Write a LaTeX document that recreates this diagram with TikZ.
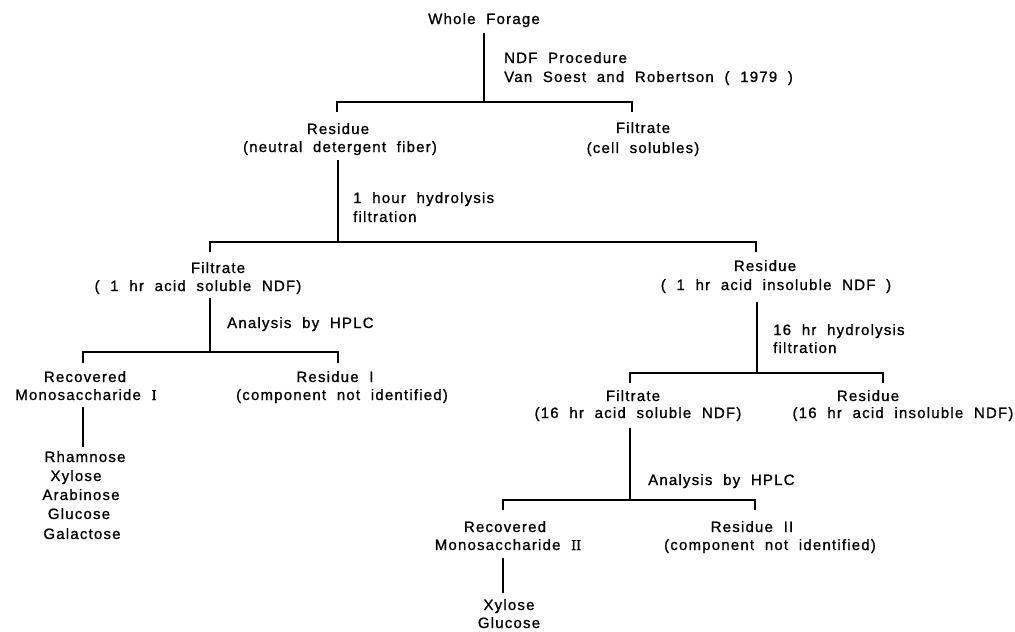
\documentclass[tikz,border=0pt]{standalone}
\usepackage{fontspec}
\setmainfont{Liberation Sans}[LetterSpace=8,WordSpace=2,FakeBold=1]
\newfontfamily\romnum{Liberation Serif}[FakeBold=1]
\begin{document}
\begin{tikzpicture}[x=1pt,y=-1pt,
  txt/.style={inner sep=0pt,anchor=base,font=\fontsize{15}{18}\selectfont},
  ltxt/.style={txt,anchor=base west},
  link/.style={line width=1.3pt,black}]
\useasboundingbox (0,0) rectangle (1015,632);
% texts
\node[txt]  (wf)    at (484,24)  {Whole Forage};
\node[ltxt] (ndf1)  at (504,63)  {NDF Procedure};
\node[ltxt] (ndf2)  at (504,82)  {Van Soest and Robertson ( 1979 )};
\node[txt]  (res1)  at (338,134) {Residue};
\node[txt]  (res1b) at (340,152) {(neutral detergent fiber)};
\node[txt]  (fil1)  at (643,133) {Filtrate};
\node[txt]  (fil1b) at (643,153) {(cell solubles)};
\node[ltxt] (hyd1)  at (353,203) {1 hour hydrolysis};
\node[ltxt] (hyd1b) at (353,222) {filtration};
\node[txt]  (fil2)  at (218,273) {Filtrate};
\node[txt]  (fil2b) at (198,291) {( 1 hr acid soluble NDF)};
\node[txt]  (res2)  at (765,271) {Residue};
\node[txt]  (res2b) at (776,290) {( 1 hr acid insoluble NDF )};
\node[ltxt] (hplc1) at (227,328) {Analysis by HPLC};
\node[txt]  (rec1)  at (85,382)  {Recovered};
\node[txt]  (rec1b) at (86,400)  {Monosaccharide {\romnum I}};
\node[txt]  (resI)  at (335,382) {Residue I};
\node[txt]  (resIb) at (342,400) {(component not identified)};
\node[txt]  (s1)    at (85,462)  {Rhamnose};
\node[txt]  (s2)    at (76,481)  {Xylose};
\node[txt]  (s3)    at (81,500)  {Arabinose};
\node[txt]  (s4)    at (79,519)  {Glucose};
\node[txt]  (s5)    at (82,539)  {Galactose};
\node[ltxt] (hyd2)  at (773,335) {16 hr hydrolysis};
\node[ltxt] (hyd2b) at (773,353) {filtration};
\node[txt]  (fil3)  at (633,401) {Filtrate};
\node[txt]  (fil3b) at (638,418) {(16 hr acid soluble NDF)};
\node[txt]  (res3)  at (868,401) {Residue};
\node[txt]  (res3b) at (903,418) {(16 hr acid insoluble NDF)};
\node[ltxt] (hplc2) at (648,485) {Analysis by HPLC};
\node[txt]  (rec2)  at (505,532) {Recovered};
\node[txt]  (rec2b) at (508,550) {Monosaccharide {\romnum II}};
\node[txt]  (resII) at (752,532) {Residue II};
\node[txt]  (resIIb) at (770,550) {(component not identified)};
\node[txt]  (x2)    at (509,610) {Xylose};
\node[txt]  (g2)    at (509,628) {Glucose};
% connector points
\coordinate (a1) at (484,33);  \coordinate (j1) at (484,102);
\coordinate (l1) at (337,112); \coordinate (r1) at (632,112);
\coordinate (a2) at (338,160); \coordinate (j2) at (338,242);
\coordinate (l2) at (210,252); \coordinate (r2) at (756,252);
\coordinate (a3) at (210,298); \coordinate (j3) at (210,352);
\coordinate (l3) at (83,363);  \coordinate (r3) at (338,363);
\coordinate (a4) at (83,407);  \coordinate (b4) at (83,447);
\coordinate (a5) at (757,302); \coordinate (j5) at (757,373);
\coordinate (l5) at (630,383); \coordinate (r5) at (883,383);
\coordinate (a6) at (630,428); \coordinate (j6) at (630,500);
\coordinate (l6) at (503,510); \coordinate (r6) at (755,510);
\coordinate (a7) at (503,558); \coordinate (b7) at (503,593);
% connectors
\draw[link] (a1) -- (j1);
\draw[link] (l1) |- (j1) -| (r1);
\draw[link] (a2) -- (j2);
\draw[link] (l2) |- (j2) -| (r2);
\draw[link] (a3) -- (j3);
\draw[link] (l3) |- (j3) -| (r3);
\draw[link] (a4) -- (b4);
\draw[link] (a5) -- (j5);
\draw[link] (l5) |- (j5) -| (r5);
\draw[link] (a6) -- (j6);
\draw[link] (l6) |- (j6) -| (r6);
\draw[link] (a7) -- (b7);
\end{tikzpicture}
\end{document}
